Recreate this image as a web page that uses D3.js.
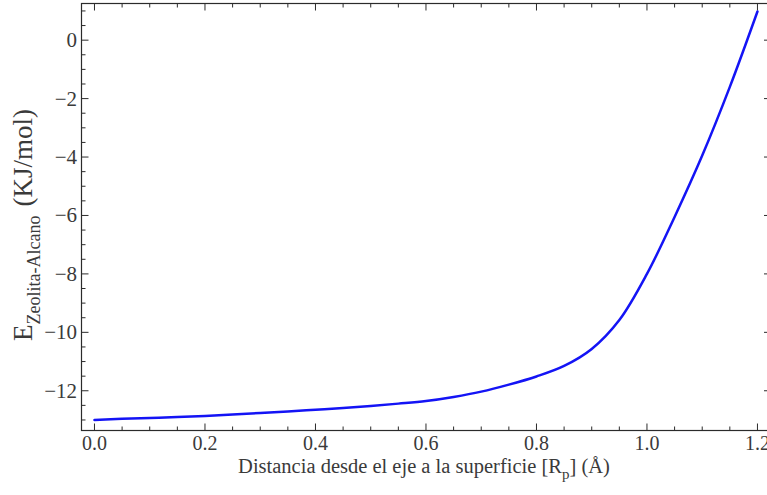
<!DOCTYPE html>
<html>
<head>
<meta charset="utf-8">
<script src="https://cdn.jsdelivr.net/npm/d3@7"></script>
<style>
  html, body { margin: 0; padding: 0; background: #fff; }
  svg { display: block; }
  text { font-family: "Liberation Serif", "DejaVu Serif", serif; }
</style>
</head>
<body>
<svg id="chart" width="767" height="495"></svg>
<script>
// Distance from the pore axis (Å)
const distance = [0, 0.05, 0.1, 0.15, 0.2, 0.25, 0.3, 0.35, 0.4, 0.45, 0.5, 0.55,
                  0.6, 0.65, 0.7, 0.75, 0.8, 0.85, 0.9, 0.95, 1.0, 1.05, 1.1, 1.15, 1.2];
// Zeolite–alkane interaction energy (kJ/mol)
const energy = [-13.00, -12.96, -12.93, -12.90, -12.86, -12.81, -12.76, -12.71, -12.65,
                -12.59, -12.52, -12.44, -12.35, -12.21, -12.03, -11.79, -11.51, -11.15,
                -10.57, -9.58, -8.00, -6.05, -3.95, -1.60, 0.98];
const xTicks = [0, 0.2, 0.4, 0.6, 0.8, 1.0, 1.2];
const yTicks = [0, -2, -4, -6, -8, -10, -12];

const svg = d3.select("#chart");
const frameL = 81.5, frameR = 771, frameT = 3.5, frameB = 430.5;

const x = d3.scaleLinear().domain([-0.0235, 1.2245]).range([frameL, frameR]);
const y = d3.scaleLinear().domain([-13.36, 1.255]).range([frameB, frameT]);

const frameColor = "#2b2b2b";
const textColor = "#3a3a3a";

// minor tick positions
const xMinor = d3.range(0, 1.2001, 0.05).filter(v => Math.abs(v / 0.2 - Math.round(v / 0.2)) > 1e-6);
const yMinor = d3.range(-13, 1.01, 0.5).filter(v => Math.abs(v / 2 - Math.round(v / 2)) > 1e-6);

const g = svg.append("g");

// frame
g.append("rect")
  .attr("x", frameL).attr("y", frameT)
  .attr("width", frameR - frameL).attr("height", frameB - frameT)
  .attr("fill", "none").attr("stroke", frameColor).attr("stroke-width", 1.2);

// inward ticks on all four sides
function xTicksAt(vals, len) {
  vals.forEach(v => {
    g.append("line").attr("x1", x(v)).attr("x2", x(v)).attr("y1", frameB).attr("y2", frameB - len)
      .attr("stroke", frameColor).attr("stroke-width", 1);
    g.append("line").attr("x1", x(v)).attr("x2", x(v)).attr("y1", frameT).attr("y2", frameT + len)
      .attr("stroke", frameColor).attr("stroke-width", 1);
  });
}
function yTicksAt(vals, len) {
  vals.forEach(v => {
    g.append("line").attr("x1", frameL).attr("x2", frameL + len).attr("y1", y(v)).attr("y2", y(v))
      .attr("stroke", frameColor).attr("stroke-width", 1);
    g.append("line").attr("x1", frameR).attr("x2", frameR - len).attr("y1", y(v)).attr("y2", y(v))
      .attr("stroke", frameColor).attr("stroke-width", 1);
  });
}
xTicksAt(xTicks, 7);
xTicksAt(xMinor, 4);
yTicksAt(yTicks, 7);
yTicksAt(yMinor, 4);

// tick labels
g.selectAll(".xl").data(xTicks).enter().append("text")
  .attr("x", d => x(d)).attr("y", 450)
  .attr("text-anchor", "middle").attr("font-size", 20).attr("fill", textColor)
  .text(d => d3.format(".1f")(d));

g.selectAll(".yl").data(yTicks).enter().append("text")
  .attr("x", 77).attr("y", d => y(d) + 7)
  .attr("text-anchor", "end").attr("font-size", 21).attr("fill", textColor)
  .text(d => d === 0 ? "0" : "\u2212" + Math.abs(d));

// curve
const pts = distance.map((d, i) => [d, energy[i]]);
const line = d3.line().x(d => x(d[0])).y(d => y(d[1])).curve(d3.curveCatmullRom.alpha(0.5));
g.append("path").datum(pts)
  .attr("d", line)
  .attr("fill", "none").attr("stroke", "#1414f5").attr("stroke-width", 2.5)
  .attr("stroke-linecap", "round");

// x axis title
const xt = svg.append("text")
  .attr("x", 424).attr("y", 473)
  .attr("text-anchor", "middle").attr("font-size", 20.5).attr("fill", textColor);
xt.append("tspan").text("Distancia desde el eje a la superficie [R");
xt.append("tspan").attr("dy", 6).attr("font-size", 15).text("p");
xt.append("tspan").attr("dy", -6).text("] (Å)");

// y axis title
const yt = svg.append("text")
  .attr("transform", "translate(32,341) rotate(-90)")
  .attr("text-anchor", "start").attr("font-size", 27).attr("fill", textColor);
yt.append("tspan").text("E");
yt.append("tspan").attr("dy", 8).attr("font-size", 18).text("Zeolita-Alcano");
yt.append("tspan").attr("dy", -8).attr("dx", 9).text("(KJ/mol)");
</script>
</body>
</html>
